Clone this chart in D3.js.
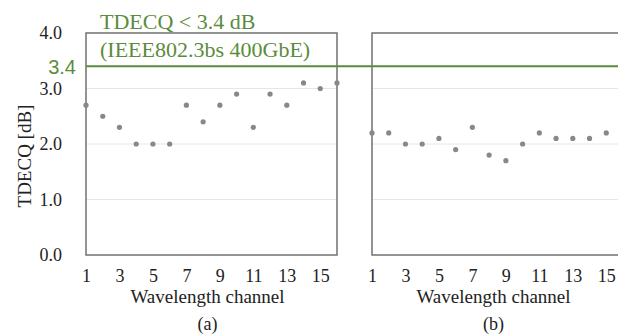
<!DOCTYPE html>
<html>
<head>
<meta charset="utf-8">
<script src="https://cdn.jsdelivr.net/npm/d3@7"></script>
<style>
  body { margin: 0; background: #fff; }
  svg { display: block; }
  svg text { font-family: "Liberation Serif", "Times New Roman", serif; }
  svg text.sans { font-family: "Liberation Sans", Arial, sans-serif; }
</style>
</head>
<body>
<div id="chart"></div>
<script>
// 数据
const channels = d3.range(1, 17);
const tdecqA = [2.7, 2.5, 2.3, 2.0, 2.0, 2.0, 2.7, 2.4, 2.7, 2.9, 2.3, 2.9, 2.7, 3.1, 3.0, 3.1];
const tdecqB = [2.2, 2.2, 2.0, 2.0, 2.1, 1.9, 2.3, 1.8, 1.7, 2.0, 2.2, 2.1, 2.1, 2.1, 2.2];
const yTicks = [0, 1, 2, 3, 4];
const xTicks = [1, 3, 5, 7, 9, 11, 13, 15];
const limit = 3.4;
const limitLines = ["TDECQ < 3.4 dB", "(IEEE802.3bs 400GbE)"];
const panels = [
    {label: "(a)", values: tdecqA, left: 86, right: 337},
    {label: "(b)", values: tdecqB, left: 372, right: 623}
];

const width = 618, height = 335;
const plotTop = 33, plotBottom = 255;
const green = "#5b8c3c";

const svg = d3.select("#chart").append("svg")
    .attr("width", width)
    .attr("height", height);

const y = d3.scaleLinear().domain([0, 4]).range([plotBottom, plotTop]);
const fmt = d3.format(".1f");

// 纵轴标签
svg.append("g")
    .attr("transform", `translate(${panels[0].left},0)`)
    .call(d3.axisLeft(y).tickValues(yTicks).tickFormat(fmt).tickSize(0).tickPadding(24))
    .call(g => g.select(".domain").remove())
    .call(g => g.selectAll("text")
        .attr("font-size", 18)
        .attr("fill", "#222"));

svg.append("text")
    .attr("transform", `translate(24,${(plotTop + plotBottom) / 2 + 12}) rotate(-90)`)
    .attr("text-anchor", "middle")
    .attr("dy", "0.35em")
    .attr("font-size", 19)
    .attr("fill", "#222")
    .text("TDECQ [dB]");

panels.forEach(p => {
    const x = d3.scaleLinear().domain([1, 16]).range([p.left, p.right]);
    const g = svg.append("g");

    // 网格线
    g.selectAll("line.grid")
        .data(yTicks.filter(t => t > 0 && t < 4))
        .join("line")
        .attr("class", "grid")
        .attr("x1", p.left).attr("x2", p.right)
        .attr("y1", d => y(d)).attr("y2", d => y(d))
        .attr("stroke", "#e6e6e6")
        .attr("stroke-width", 1);

    // 边框
    g.append("rect")
        .attr("x", p.left).attr("y", y(4))
        .attr("width", p.right - p.left)
        .attr("height", y(0) - y(4))
        .attr("fill", "none")
        .attr("stroke", "#707070")
        .attr("stroke-width", 1.5);

    // 横轴刻度
    g.append("g")
        .attr("transform", `translate(0,${plotBottom})`)
        .call(d3.axisBottom(x).tickValues(xTicks).tickFormat(d3.format("d")).tickSize(0).tickPadding(14))
        .call(a => a.select(".domain").remove())
        .call(a => a.selectAll("text")
            .attr("font-size", 18)
            .attr("fill", "#222"));

    const cx = (p.left + p.right) / 2 - 4;
    g.append("text")
        .attr("x", cx).attr("y", 303)
        .attr("text-anchor", "middle")
        .attr("font-size", 19)
        .attr("fill", "#222")
        .text("Wavelength channel");

    g.append("text")
        .attr("x", cx).attr("y", 330)
        .attr("text-anchor", "middle")
        .attr("font-size", 18)
        .attr("fill", "#222")
        .text(p.label);

    // 数据点
    g.selectAll("circle")
        .data(p.values)
        .join("circle")
        .attr("cx", (d, i) => x(channels[i]))
        .attr("cy", d => y(d))
        .attr("r", 2.6)
        .attr("fill", "#888");
});

// 3.4 dB 限值线
svg.append("line")
    .attr("x1", panels[0].left).attr("x2", width)
    .attr("y1", y(limit)).attr("y2", y(limit))
    .attr("stroke", green)
    .attr("stroke-width", 2);

svg.append("text")
    .attr("class", "sans")
    .attr("x", 76)
    .attr("y", 74)
    .attr("text-anchor", "end")
    .attr("font-size", 20)
    .attr("fill", green)
    .text(fmt(limit));

svg.append("g")
    .selectAll("text")
    .data(limitLines)
    .join("text")
    .attr("x", 100)
    .attr("y", (d, i) => 29 + i * 28)
    .attr("font-size", 22)
    .attr("fill", green)
    .text(d => d);
</script>
</body>
</html>
